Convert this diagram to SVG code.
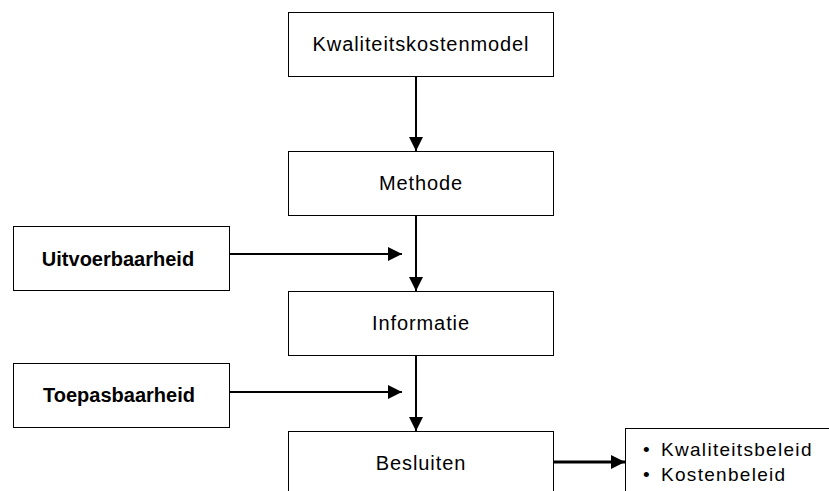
<svg xmlns="http://www.w3.org/2000/svg" width="829" height="491" viewBox="0 0 829 491">
<defs>
<style>
.box{fill:#fff;stroke:#000;stroke-width:1}
.t{font-family:"Liberation Sans",Arial,sans-serif;font-size:20px;fill:#000;text-anchor:middle;letter-spacing:0.9px}
.b{font-family:"Liberation Sans",Arial,sans-serif;font-size:20px;font-weight:bold;fill:#000;text-anchor:middle}
.l{font-family:"Liberation Sans",Arial,sans-serif;font-size:19px;fill:#000;letter-spacing:1.3px}
.c{stroke:#000;stroke-width:2;fill:none}
</style>
<marker id="ah" markerUnits="userSpaceOnUse" markerWidth="14" markerHeight="14" viewBox="0 0 14 14" refX="14" refY="7" orient="auto">
<path d="M0,0 L14,7 L0,14 Z" fill="#000"/>
</marker>
</defs>
<rect width="829" height="491" fill="#fff"/>
<g id="connectors">
<line class="c" x1="416" y1="76" x2="416" y2="151" marker-end="url(#ah)"/>
<line class="c" x1="416" y1="216" x2="416" y2="291" marker-end="url(#ah)"/>
<line class="c" x1="416" y1="356" x2="416" y2="431" marker-end="url(#ah)"/>
<line class="c" x1="229" y1="254" x2="402" y2="254" marker-end="url(#ah)"/>
<line class="c" x1="229" y1="392" x2="402" y2="392" marker-end="url(#ah)"/>
<line class="c" style="stroke-width:3" x1="553" y1="462" x2="625" y2="462" marker-end="url(#ah)"/>
</g>
<g id="kwaliteitskostenmodel">
<rect class="box" x="288.5" y="12.5" width="265" height="64"/>
<text class="t" x="421" y="51">Kwaliteitskostenmodel</text>
</g>
<g id="methode">
<rect class="box" x="288.5" y="151.5" width="265" height="64"/>
<text class="t" x="421" y="190">Methode</text>
</g>
<g id="informatie">
<rect class="box" x="288.5" y="291.5" width="265" height="64"/>
<text class="t" x="421" y="330">Informatie</text>
</g>
<g id="besluiten">
<rect class="box" x="288.5" y="431.5" width="265" height="80"/>
<text class="t" x="421" y="470">Besluiten</text>
</g>
<g id="uitvoerbaarheid">
<rect class="box" x="13.5" y="226.5" width="216" height="64"/>
<text class="b" x="118" y="266">Uitvoerbaarheid</text>
</g>
<g id="toepasbaarheid">
<rect class="box" x="13.5" y="363.5" width="216" height="64"/>
<text class="b" x="119" y="402">Toepasbaarheid</text>
</g>
<g id="beleid">
<rect class="box" x="625.5" y="428.5" width="220" height="80"/>
<text class="l" x="643" y="456">•</text>
<text class="l" x="661" y="456">Kwaliteitsbeleid</text>
<text class="l" x="643" y="481">•</text>
<text class="l" x="661" y="481">Kostenbeleid</text>
</g>
</svg>
